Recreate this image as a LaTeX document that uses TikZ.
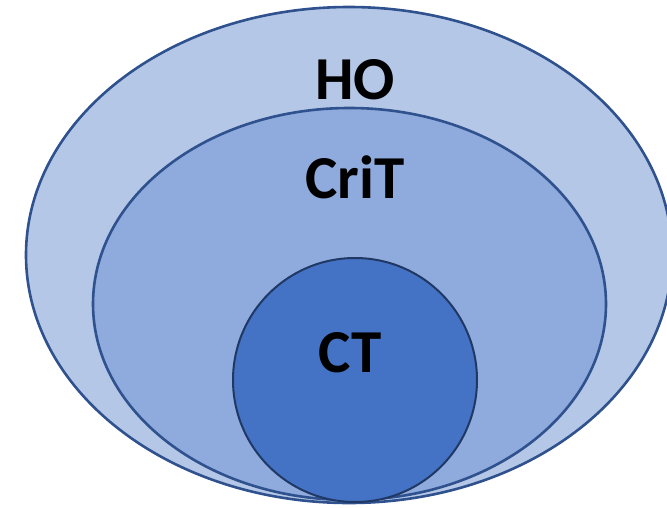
\documentclass[tikz,border=0pt]{standalone}
\usepackage{fontspec}
\setmainfont{Carlito}
\definecolor{outerfill}{HTML}{B4C7E7}
\definecolor{midfill}{HTML}{8FAADC}
\definecolor{innerfill}{HTML}{4472C4}
\definecolor{rimblue}{HTML}{2F528F}
\definecolor{rimdark}{HTML}{203864}
\begin{document}
\begin{tikzpicture}[x=1pt,y=-1pt,
  ring/.style={draw=rimblue,line width=2.6pt},
  label/.style={font=\bfseries\fontsize{61}{61}\selectfont,text=black,inner sep=0pt}]
  \useasboundingbox (0,0) rectangle (667,507);
  \begin{scope}
    \clip (0,0) rectangle (667,507);
    % outer set
    \draw[ring,fill=outerfill] (349,255) ellipse [x radius=323,y radius=248];
    % middle set
    \draw[ring,fill=midfill] (349.5,304) ellipse [x radius=256.5,y radius=196];
    % inner set
    \draw[draw=rimdark,line width=2pt,fill=innerfill] (355,380) circle [radius=122];
  \end{scope}
  \node[label] (ho) at (355,80) {HO};
  \node[label] (crit) at (355,177) {CriT};
  \node[label] (ct) at (350,353) {CT};
\end{tikzpicture}
\end{document}
